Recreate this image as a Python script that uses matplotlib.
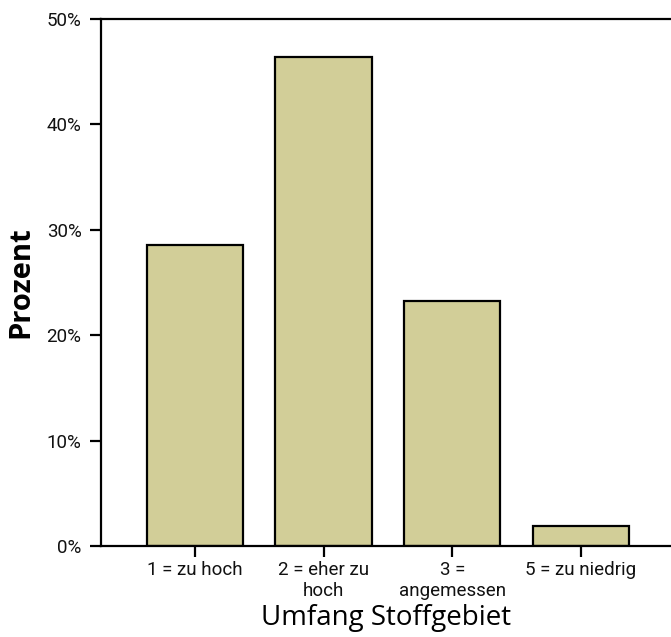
import matplotlib
matplotlib.use("Agg")
import matplotlib.pyplot as plt
from matplotlib.ticker import FuncFormatter

categories = ["1 = zu hoch", "2 = eher zu\nhoch", "3 =\nangemessen", "5 = zu niedrig"]
values = [28.6, 46.4, 23.2, 1.9]
yticks = [0, 10, 20, 30, 40, 50]

fig = plt.figure(figsize=(6.71, 6.37), dpi=100)
ax = fig.add_axes([101/671, 91/637, 1 - 101/671, 527/637])

x = list(range(len(categories)))
ax.bar(x, values, width=0.75, color="#D2CE98", edgecolor="black", linewidth=1.6)

ax.set_xlim(-0.729, 3.70)
ax.set_ylim(0, 50)
ax.set_yticks(yticks)
ax.yaxis.set_major_formatter(FuncFormatter(lambda v, p: f"{int(v)}%"))
ax.set_xticks(x)
ax.set_xticklabels(categories, fontfamily="Roboto", fontsize=13.5, linespacing=1.2, color="#111111")
for lbl in ax.get_yticklabels():
    lbl.set_fontfamily("Roboto")
    lbl.set_fontsize(13.5)
    lbl.set_color("#111111")

for s in ["left", "bottom", "top"]:
    ax.spines[s].set_linewidth(1.6)
ax.spines["right"].set_visible(False)
ax.tick_params(axis="both", direction="out", length=8, width=1.6)
ax.tick_params(axis="y", pad=6)
ax.tick_params(axis="x", pad=3)

ax.set_ylabel("Prozent", fontfamily="Open Sans", fontweight="bold", fontsize=21, labelpad=8)
ax.set_xlabel("Umfang Stoffgebiet", fontfamily="Open Sans", fontsize=20, labelpad=3)

fig.savefig("out.png", dpi=100)
